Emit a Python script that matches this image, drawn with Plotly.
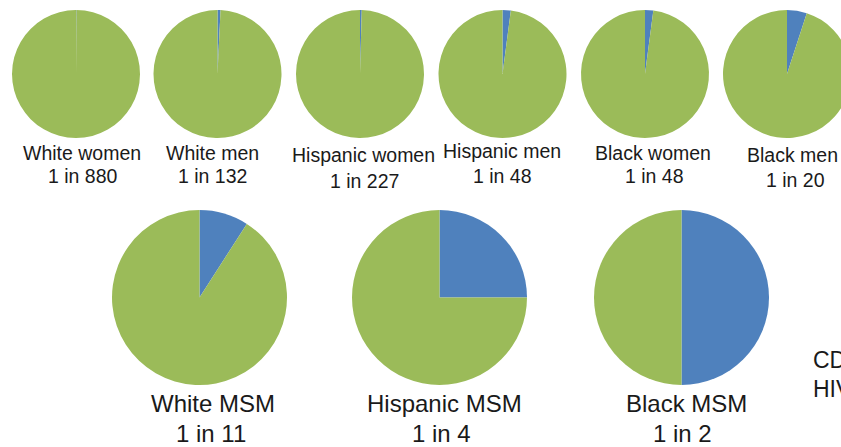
import plotly.graph_objects as go

# ---- data ----
top_groups = ["White women", "White men", "Hispanic women", "Hispanic men", "Black women", "Black men"]
top_odds = [880, 132, 227, 48, 48, 20]
bottom_groups = ["White MSM", "Hispanic MSM", "Black MSM"]
bottom_odds = [11, 4, 2]
source_lines = ["CDC", "HIV"]

BLUE = "#4F81BD"
GREEN = "#9BBB59"
TXT = "#1a1a1a"
FONT = "Liberation Sans, Arial, sans-serif"

W, H = 870, 447

# layout positions (pixels)
top_cx = [76, 217.5, 360, 502.5, 645, 787]
top_cy, top_r = 74, 64
bot_cx = [199.5, 439.5, 681.5]
bot_cy, bot_r = 297.5, 87.5

top_l1 = [(81.5, 153), (212, 153), (363, 155), (502, 151), (653, 153), (792, 155)]
top_l2 = [(82.5, 176), (212.5, 176), (364, 181), (502.5, 176), (654, 176), (795, 180)]
bot_l1 = [(213, 403.5), (444, 403.5), (686, 403.5)]
bot_l2 = [(211, 433.5), (441, 433.5), (682, 433.5)]


def dom(cx, cy, r):
    return dict(x=[(cx - r) / W, (cx + r) / W], y=[1 - (cy + r) / H, 1 - (cy - r) / H])


fig = go.Figure()


def add_pie(name, odds, cx, cy, r):
    fig.add_trace(go.Pie(
        labels=["diagnosed", "not diagnosed"],
        values=[1, odds - 1],
        name=name,
        sort=False,
        direction="clockwise",
        rotation=0,
        textinfo="none",
        hoverinfo="label+percent",
        marker=dict(colors=[BLUE, GREEN], line=dict(width=0)),
        domain=dom(cx, cy, r),
        showlegend=False,
    ))


for g, o, cx in zip(top_groups, top_odds, top_cx):
    add_pie(g, o, cx, top_cy, top_r)
for g, o, cx in zip(bottom_groups, bottom_odds, bot_cx):
    add_pie(g, o, cx, bot_cy, bot_r)

ann = []


def txt(s, x, y, size, anchor="center"):
    ann.append(dict(text=s, x=x / W, y=1 - y / H, xref="paper", yref="paper",
                    xanchor=anchor, yanchor="middle", showarrow=False, borderpad=0,
                    font=dict(family=FONT, size=size, color=TXT)))


for g, o, p1, p2 in zip(top_groups, top_odds, top_l1, top_l2):
    txt(g, p1[0], p1[1], 19.5)
    txt(f"1 in {o}", p2[0], p2[1], 19.5)
for g, o, p1, p2 in zip(bottom_groups, bottom_odds, bot_l1, bot_l2):
    txt(g, p1[0], p1[1], 24)
    txt(f"1 in {o}", p2[0], p2[1], 24)

txt(source_lines[0], 812, 360, 23, anchor="left")
txt(source_lines[1], 812, 388.5, 23, anchor="left")

fig.update_layout(
    width=W, height=H,
    margin=dict(l=0, r=0, t=0, b=0),
    paper_bgcolor="white",
    plot_bgcolor="white",
    annotations=ann,
    showlegend=False,
)

fig.write_html(
    "out.html",
    post_script="document.documentElement.style.overflow='hidden';document.body.style.overflow='hidden';document.body.style.margin='0';",
)
